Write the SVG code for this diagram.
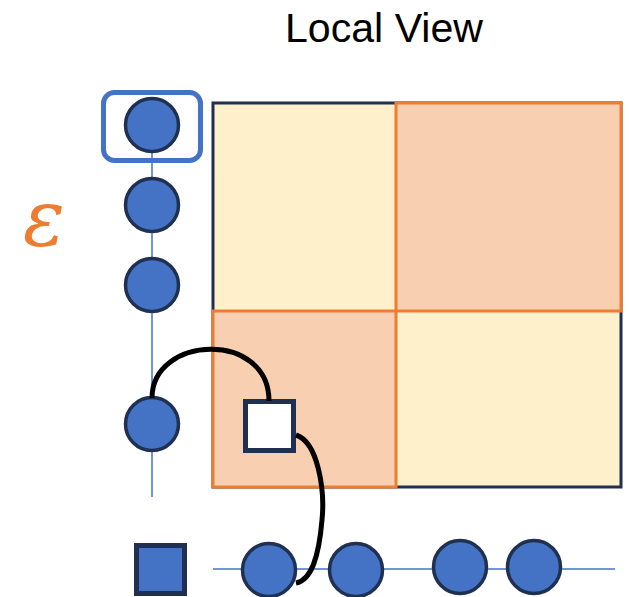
<svg xmlns="http://www.w3.org/2000/svg" width="629" height="597" viewBox="0 0 629 597">
  <style>
    .title { font-family: "Liberation Sans", Arial, sans-serif; font-size: 40px; fill: #000; }
    .eps { font-family: "DejaVu Serif", "Liberation Serif", serif; font-style: italic; font-size: 78px; fill: #ED7D31; }
    .light { fill: #FFF0CC; stroke: #1F3050; stroke-width: 3; }
    .dark { fill: #F8CFB0; stroke: #ED7D31; stroke-width: 3; }
    .node { fill: #4472C4; stroke: #1F3050; stroke-width: 3.5; }
    .axis { stroke: #4472C4; stroke-width: 1.5; fill: none; }
    .link { stroke: #000; stroke-width: 5; fill: none; stroke-linecap: butt; }
  </style>

  <rect width="629" height="597" fill="#fff"/>

  <text class="title" x="285" y="42" textLength="198" lengthAdjust="spacingAndGlyphs">Local View</text>
  <text class="eps" x="23" y="246">ε</text>

  <!-- block matrix -->
  <g id="matrix">
    <rect class="light" x="213" y="103" width="408" height="384"/>
    <rect class="dark" x="396" y="103" width="225" height="208"/>
    <rect class="dark" x="213" y="311" width="183" height="176"/>
  </g>

  <!-- axes -->
  <g id="axes">
    <line class="axis" x1="152" y1="125" x2="152" y2="497"/>
    <line class="axis" x1="213" y1="569" x2="615" y2="569"/>
  </g>

  <!-- highlight around the first row node -->
  <g id="highlight">
    <rect x="103.5" y="92.5" width="97" height="68" rx="11" fill="none" stroke="#4472C4" stroke-width="5"/>
  </g>

  <!-- row nodes -->
  <g id="row-1"><circle class="node" cx="152" cy="125" r="26.5"/></g>
  <g id="row-2"><circle class="node" cx="152" cy="205" r="26.5"/></g>
  <g id="row-3"><circle class="node" cx="152" cy="285" r="26.5"/></g>
  <g id="row-4"><circle class="node" cx="152" cy="424" r="26.5"/></g>

  <!-- column nodes -->
  <g id="col-head"><rect x="136.5" y="545.5" width="48" height="48" fill="#4472C4" stroke="#1F3050" stroke-width="5"/></g>
  <g id="col-1"><circle class="node" cx="269" cy="570" r="26.5"/></g>
  <g id="col-2"><circle class="node" cx="356" cy="570" r="26.5"/></g>
  <g id="col-3"><circle class="node" cx="460" cy="567" r="26.5"/></g>
  <g id="col-4"><circle class="node" cx="534" cy="567" r="26.5"/></g>

  <!-- matrix entry -->
  <g id="entry"><rect x="245.5" y="401.5" width="48" height="49" fill="#fff" stroke="#1F3050" stroke-width="5"/></g>

  <!-- connectors -->
  <g id="connectors">
    <path class="link" d="M152,398 C152,335 269,330 269,401"/>
    <path class="link" d="M296,435 C318,442 325,490 322,520 C319,555 312,580 296,583"/>
  </g>
</svg>
